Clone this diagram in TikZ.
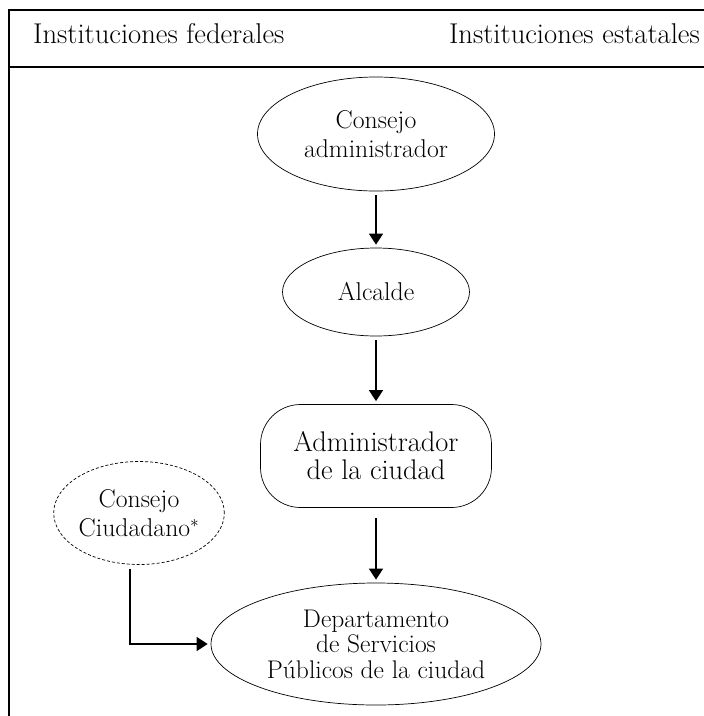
\documentclass[tikz,border=0pt]{standalone}
\usetikzlibrary{arrows.meta,shapes.geometric}

\begin{document}
\begin{tikzpicture}[x=1pt, y=-1pt,
    caja/.style={draw, line width=.7pt, inner sep=0pt, align=center,
        font=\fontsize{25.7}{29}\selectfont},
    elipse/.style={caja, ellipse},
    flecha/.style={line width=1.4pt, -{Triangle[length=11pt,width=14pt]},
        shorten <=4pt, shorten >=3pt},
    encabezado/.style={font=\fontsize{28.6}{32}\selectfont, inner sep=0pt}]
\useasboundingbox (0,0) rectangle (704,716);

% marco
\draw[line width=1.2pt] (9,716)--(9,10)--(704,10);
\draw[line width=1.2pt] (9,67)--(704,67);
\node[encabezado, anchor=base west] (fed) at (33,43) {Instituciones federales};
\node[encabezado, anchor=base east] (est) at (700,43) {Instituciones estatales};

% nodos
\node[elipse, minimum width=237pt, minimum height=114pt] (cadm) at (376,134) {Consejo\\administrador};
\node[elipse, minimum width=187pt, minimum height=88pt] (alc) at (376,292) {Alcalde};
\node[caja, rounded corners=40pt, minimum width=231pt, minimum height=103pt,
    font=\fontsize{28.4}{28}\selectfont] (adm) at (376,456) {Administrador\\de la ciudad};
\node[elipse, minimum width=330pt, minimum height=122pt, font=\fontsize{25.5}{25.5}\selectfont]
    (dep) at (376,644) {Departamento\\de Servicios\\P\'ublicos de la ciudad};
\node[elipse, dash pattern=on 3pt off 2pt, minimum width=168pt, minimum height=103pt]
    (cciu) at (139,513) {Consejo\\Ciudadano$^{*}$};

% flechas
\draw[flecha] (cadm.south) -- (alc.north);
\draw[flecha] (alc.south) -- (adm.north);
\draw[flecha, shorten <=10pt] (adm.south) -- (dep.north);
\draw[flecha] ([xshift=-9pt]cciu.south) |- (dep.west);
\end{tikzpicture}
\end{document}
